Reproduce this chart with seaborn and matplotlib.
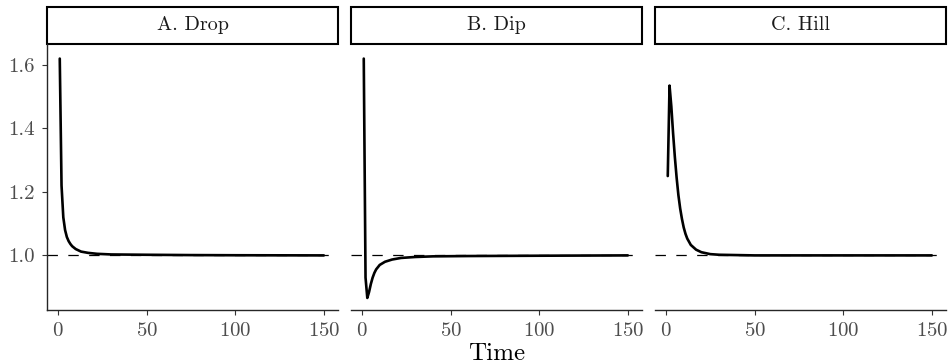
import numpy as np
import pandas as pd
import matplotlib
matplotlib.use("Agg")
import matplotlib.pyplot as plt
from matplotlib.patches import Rectangle
import seaborn as sns

# ---- data ----
panels = ["A. Drop", "B. Dip", "C. Hill"]

time_a = [1, 2, 3, 4, 5, 6, 7, 8, 10, 13, 17, 22, 30, 50, 75, 100, 150]
value_a = [1.62, 1.22, 1.12, 1.08, 1.058, 1.045, 1.036, 1.029, 1.02, 1.012, 1.008,
           1.005, 1.003, 1.002, 1.001, 1.0005, 1.0]

time_b = [1, 2, 3, 4, 5, 6, 7, 8, 10, 13, 17, 22, 30, 40, 60, 100, 150]
value_b = [1.62, 0.93, 0.866, 0.885, 0.91, 0.93, 0.945, 0.956, 0.97, 0.98, 0.987,
           0.992, 0.995, 0.997, 0.998, 0.999, 1.0]

time_c = [1, 2, 3, 4, 5, 6, 7, 8, 9, 10, 11, 12, 14, 17, 20, 25, 30, 50, 100, 150]
value_c = [1.25, 1.535, 1.47, 1.385, 1.31, 1.245, 1.19, 1.148, 1.115, 1.088, 1.068,
           1.053, 1.033, 1.018, 1.01, 1.004, 1.002, 1.0, 1.0, 1.0]

reference_level = 1.0
x_ticks = [0, 50, 100, 150]
y_ticks = [1.0, 1.2, 1.4, 1.6]

df = pd.concat([
    pd.DataFrame({"Time": time_a, "value": value_a, "panel": panels[0]}),
    pd.DataFrame({"Time": time_b, "value": value_b, "panel": panels[1]}),
    pd.DataFrame({"Time": time_c, "value": value_c, "panel": panels[2]}),
])

sns.set_theme(style="ticks")
plt.rcParams["font.family"] = ["cmr10", "DejaVu Serif"]
plt.rcParams["axes.formatter.use_mathtext"] = True
plt.rcParams["lines.scale_dashes"] = False

g = sns.relplot(data=df, x="Time", y="value", col="panel", col_order=panels,
                kind="line", color="black", linewidth=1.9, height=3, aspect=1,
                facet_kws=dict(sharex=True, sharey=True))
fig = g.figure
fig.set_size_inches(9.51, 3.64)
fig.subplots_adjust(left=47/951, right=946/951, bottom=1-310/364, top=1-44/364,
                    wspace=13/291)

strip_h = 37 / 266
for i, (ax, name) in enumerate(zip(g.axes.flat, panels)):
    ax.axhline(reference_level, color="black", lw=0.9, ls=(0, (7.5, 7.5)), zorder=1)
    for ln in ax.get_lines():
        if ln.get_linestyle() == "-":
            ln.set_zorder(3)
    ax.set_xlim(-6.2, 158.0)
    ax.set_ylim(0.828, 1.666)
    ax.set_xticks(x_ticks)
    ax.set_yticks(y_ticks)
    ax.set_yticklabels([f"{v:.1f}" for v in y_ticks])
    ax.set_title("")
    ax.set_xlabel("")
    ax.set_ylabel("")
    for s in ["top", "right"]:
        ax.spines[s].set_visible(False)
    ax.spines["bottom"].set_linewidth(1.0)
    ax.spines["left"].set_linewidth(1.0)
    ax.tick_params(axis="both", length=3.5, width=0.8, color="#333333",
                   labelcolor="#4D4D4D", labelsize=15, pad=5)
    if i > 0:
        ax.spines["left"].set_visible(False)
        ax.tick_params(axis="y", left=False, labelleft=False)
    rect = Rectangle((0, 1), 1, strip_h, transform=ax.transAxes, fill=False,
                     edgecolor="black", linewidth=1.5, clip_on=False)
    ax.add_patch(rect)
    ax.text(0.5, 1 + strip_h / 2, name, transform=ax.transAxes, ha="center",
            va="center", fontsize=14.5, color="#1A1A1A")

fig.text((47 + 946) / 2 / 951, 1 - 360 / 364, "Time", ha="center", va="baseline",
         fontsize=18, color="black")

fig.savefig("out.png", dpi=100)
